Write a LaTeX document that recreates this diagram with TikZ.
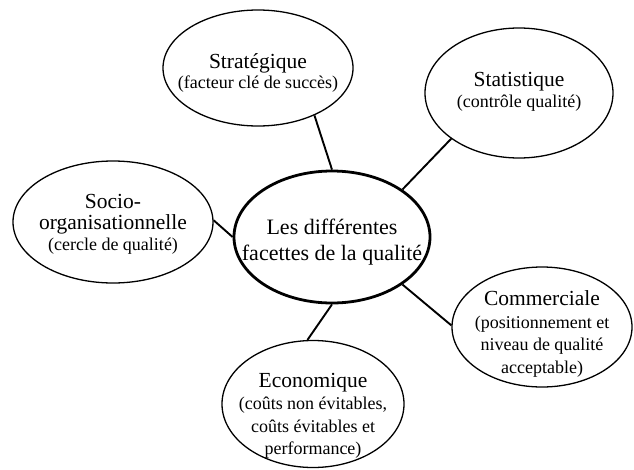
\documentclass[tikz,border=0pt]{standalone}
\usepackage{fontspec}
\setmainfont{Liberation Serif}
\usetikzlibrary{shapes.geometric}
\tikzset{
  facet/.style={ellipse, draw, line width=1.3pt, inner sep=0pt},
  hub/.style={ellipse, draw, line width=2.8pt, inner sep=0pt},
  facettext/.style={inner sep=0pt, align=center,
    font=\fontsize{18}{22.5}\selectfont},
  hubtext/.style={inner sep=0pt, align=center,
    font=\fontsize{22}{26}\selectfont},
  link/.style={line width=1.9pt}
}
\newcommand{\ttl}[1]{{\fontsize{21.5}{21.5}\selectfont #1}}
\begin{document}
\begin{tikzpicture}[x=1pt,y=-1pt]
\useasboundingbox (0,0) rectangle (634,469);
% ellipses
\node[hub, minimum width=196pt, minimum height=132pt] (hub) at (332,237) {};
\node[facet, minimum width=190pt, minimum height=116pt] (strat) at (258,68) {};
\node[facet, minimum width=188pt, minimum height=130pt] (stat) at (519,93) {};
\node[facet, minimum width=200pt, minimum height=122pt] (socio) at (113,222) {};
\node[facet, minimum width=180pt, minimum height=120pt] (comm) at (542,327) {};
\node[facet, minimum width=182pt, minimum height=127pt] (eco) at (313,404) {};
% texts
\node[hubtext] (hubt) at (332,242) {Les différentes\\facettes de la qualité};
\node[facettext] (stratt) at (258,73) {\ttl{Stratégique}\\[-3pt](facteur clé de succès)};
\node[facettext] (statt) at (519,92) {\ttl{Statistique}\\[-1pt](contrôle qualité)};
\node[facettext] (sociot) at (113,224) {\ttl{Socio-}\\[-1pt]\ttl{organisationnelle}\\[-2pt](cercle de qualité)};
\node[facettext] (commt) at (542,334) {\ttl{Commerciale}\\(positionnement et\\niveau de qualité\\acceptable)};
\node[facettext] (ecot) at (313,416) {\ttl{Economique}\\(coûts non évitables,\\coûts évitables et\\performance)};
% connectors
\draw[link] (strat.-40) -- (hub.90);
\draw[link] (stat.214) -- (hub.34);
\draw[link] (socio.1) -- (hub.180);
\draw[link] (comm.179) -- (hub.-34);
\draw[link] (eco.95) -- (hub.-90);
\end{tikzpicture}
\end{document}
